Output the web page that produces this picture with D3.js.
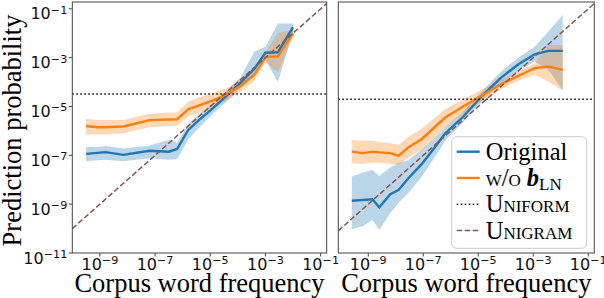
<!DOCTYPE html>
<html>
<head>
<meta charset="utf-8">
<script src="https://cdn.jsdelivr.net/npm/d3@7"></script>
<style>
  body { margin: 0; background: #fff; }
  svg { display: block; }
</style>
</head>
<body>
<script>
// all series values are log10 of the value

// left panel (BERT-like, vocab ~30k)
var freqL = [-9.5, -9.1, -8.8, -8.15, -7.2, -6.5, -6.2, -5.8, -5.4, -4.9, -4.4, -3.9, -3.4, -3.0, -2.55, -2.0];
var origL = [-6.94, -6.9, -6.87, -6.98, -6.81, -6.85, -6.74, -5.96, -5.55, -5.07, -4.55, -4.02, -3.45, -2.8, -2.78, -1.75];
var origLHi = [-6.66, -6.66, -6.62, -6.72, -6.6, -6.36, -6.48, -5.72, -5.3, -4.85, -4.35, -3.8, -2.75, -2.55, -1.6, -1.6];
var origLLo = [-7.24, -7.2, -7.18, -7.24, -7.12, -7.18, -7.16, -6.35, -5.85, -5.3, -4.78, -4.25, -3.75, -3.1, -4.0, -1.95];
var wolnL = [-5.8, -5.85, -5.85, -5.82, -5.56, -5.53, -5.52, -5.11, -4.95, -4.75, -4.5, -4.15, -3.7, -2.97, -2.95, -2.0];
var wolnLHi = [-5.5, -5.55, -5.55, -5.55, -5.3, -5.25, -5.25, -4.8, -4.62, -4.45, -4.25, -3.9, -3.45, -2.8, -2.0, -1.85];
var wolnLLo = [-6.15, -6.15, -6.15, -6.1, -5.85, -5.8, -5.8, -5.4, -5.25, -5.05, -4.75, -4.4, -3.95, -3.2, -3.6, -2.15];
var uniformL = 1 / 30522;

// right panel (GPT-2-like, vocab ~50k)
var freqR = [-9.6, -9.2, -8.85, -8.6, -8.2, -7.9, -7.55, -7.05, -6.6, -6.2, -5.55, -4.85, -4.2, -3.55, -2.95, -2.45, -1.93];
var origR = [-8.86, -8.83, -8.8, -9.13, -8.59, -8.42, -7.95, -7.35, -6.7, -6.1, -5.42, -4.55, -3.85, -3.28, -2.86, -2.72, -2.72];
var origRHi = [-7.87, -7.7, -7.6, -7.85, -7.5, -7.3, -7.2, -6.75, -6.3, -5.85, -5.2, -4.35, -3.6, -3.0, -2.55, -1.93, -1.25];
var origRLo = [-10.03, -9.9, -9.65, -10.06, -9.36, -8.95, -8.55, -7.87, -7.1, -6.4, -5.65, -4.75, -4.1, -3.55, -3.16, -3.5, -4.32];
var wolnR = [-6.85, -6.91, -6.85, -6.88, -6.91, -7.02, -6.68, -6.33, -5.86, -5.45, -5.0, -4.54, -4.1, -3.75, -3.43, -3.36, -3.5];
var wolnRHi = [-6.37, -6.4, -6.4, -6.45, -6.5, -6.57, -6.25, -5.9, -5.48, -5.1, -4.7, -4.3, -3.9, -3.55, -3.25, -2.48, -2.48];
var wolnRLo = [-7.32, -7.35, -7.3, -7.3, -7.35, -7.39, -7.1, -6.75, -6.3, -5.85, -5.3, -4.8, -4.3, -3.95, -3.7, -3.98, -4.35];
var uniformR = 1 / 50257;

var xTicks = [1e-9, 1e-7, 1e-5, 1e-3, 1e-1];
var yTicks = [1e-11, 1e-9, 1e-7, 1e-5, 1e-3, 1e-1];
var legendLabels = ["Original", "w/o", "Uniform", "Unigram"];

var blue = "#1f77b4", orange = "#ff7f0e", brown = "#8c564b";
var width = 604, height = 298;
var plotTop = 2, plotBottom = 253;
var serif = "'Liberation Serif', 'Times New Roman', serif";
var sans = "'DejaVu Sans', sans-serif";

var svg = d3.select("body").append("svg")
    .attr("width", width)
    .attr("height", height);

var y = d3.scaleLog()
    .domain([1e-11, Math.pow(10, -0.72)])
    .range([plotBottom, plotTop]);

function pow10(v){
    return Math.pow(10, v);
}

function supLabel(sel, v){
    sel.append("tspan").text("10");
    sel.append("tspan")
        .attr("font-size", "0.7em")
        .attr("dy", "-0.5em")
        .text("\u2212" + Math.round(-Math.log10(v)));
}

function panel(id, x0, x1, xlo, freq, orig, origHi, origLo, woln, wolnHi, wolnLo, uniform, showY){
    var x = d3.scaleLog()
        .domain([pow10(xlo), pow10(-0.78)])
        .range([x0, x1]);

    var g = svg.append("g");

    g.append("clipPath").attr("id", id)
        .append("rect")
        .attr("x", x0).attr("y", plotTop)
        .attr("width", x1 - x0).attr("height", plotBottom - plotTop);

    var plot = g.append("g").attr("clip-path", "url(#" + id + ")");

    var area = function(hi, lo){
        return d3.area()
            .x(function(d, i){ return x(pow10(freq[i])); })
            .y0(function(d, i){ return y(pow10(lo[i])); })
            .y1(function(d, i){ return y(pow10(hi[i])); })(freq);
    };
    var line = function(vals){
        return d3.line()
            .x(function(d, i){ return x(pow10(freq[i])); })
            .y(function(d){ return y(pow10(d)); })(vals);
    };

    plot.append("path").attr("d", area(origHi, origLo))
        .attr("fill", blue).attr("fill-opacity", 0.3);
    plot.append("path").attr("d", area(wolnHi, wolnLo))
        .attr("fill", orange).attr("fill-opacity", 0.3);

    plot.append("path").attr("d", line(orig))
        .attr("fill", "none").attr("stroke", blue).attr("stroke-width", 2.4);
    plot.append("path").attr("d", line(woln))
        .attr("fill", "none").attr("stroke", orange).attr("stroke-width", 2.4);

    // uniform baseline
    plot.append("line")
        .attr("x1", x0).attr("x2", x1)
        .attr("y1", y(uniform)).attr("y2", y(uniform))
        .attr("stroke", "#000").attr("stroke-width", 1.5)
        .attr("stroke-dasharray", "1.5,2.5");

    // unigram: prediction = frequency
    var dom = x.domain();
    plot.append("line")
        .attr("x1", x(dom[0])).attr("y1", y(dom[0]))
        .attr("x2", x(dom[1])).attr("y2", y(dom[1]))
        .attr("stroke", brown).attr("stroke-width", 1.5)
        .attr("stroke-dasharray", "5.5,2.5");

    g.append("rect")
        .attr("x", x0).attr("y", plotTop)
        .attr("width", x1 - x0).attr("height", plotBottom - plotTop)
        .attr("fill", "none").attr("stroke", "#444").attr("stroke-width", 1);

    xTicks.forEach(function(t){
        g.append("line")
            .attr("x1", x(t)).attr("x2", x(t))
            .attr("y1", plotBottom).attr("y2", plotBottom + 3.5)
            .attr("stroke", "#444");
        var lab = g.append("text")
            .attr("x", x(t)).attr("y", plotBottom + 17)
            .attr("text-anchor", "middle")
            .attr("font-family", sans).attr("font-size", 16)
            .attr("fill", "#111");
        supLabel(lab, t);
    });

    if(showY){
        yTicks.forEach(function(t){
            g.append("line")
                .attr("x1", x0 - 3.5).attr("x2", x0)
                .attr("y1", y(t)).attr("y2", y(t))
                .attr("stroke", "#444");
            var lab = g.append("text")
                .attr("x", x0 - 5).attr("y", y(t) + 10.5)
                .attr("text-anchor", "end")
                .attr("font-family", sans).attr("font-size", 16)
                .attr("fill", "#111");
            supLabel(lab, t);
        });
        g.append("text")
            .attr("transform", "translate(21," + ((plotTop + plotBottom) / 2 + 3) + ") rotate(-90)")
            .attr("text-anchor", "middle")
            .attr("font-family", serif).attr("font-size", 26.5)
            .text("Prediction probability");
    }

    g.append("text")
        .attr("x", (x0 + x1) / 2).attr("y", 292)
        .attr("text-anchor", "middle")
        .attr("font-family", serif).attr("font-size", 26.5)
        .text("Corpus word frequency");

    return x;
}

panel("clipL", 72.3, 326.7, -10, freqL, origL, origLHi, origLLo, wolnL, wolnLHi, wolnLLo, uniformL, true);
panel("clipR", 338.3, 594.3, -10.09, freqR, origR, origRHi, origRLo, wolnR, wolnRHi, wolnRLo, uniformR, false);

// legend
var lg = svg.append("g").attr("transform", "translate(451.7,136.7)");
lg.append("rect")
    .attr("width", 135).attr("height", 111.6)
    .attr("rx", 5)
    .attr("fill", "#fff").attr("fill-opacity", 0.8)
    .attr("stroke", "#ccc").attr("stroke-width", 1);

var handles = [
    {color: blue, width: 2.4, dash: null},
    {color: orange, width: 2.4, dash: null},
    {color: "#000", width: 1.5, dash: "1.5,2.5"},
    {color: brown, width: 1.5, dash: "5.5,2.5"}
];
legendLabels.forEach(function(name, i){
    var ry = 15 + i * 26.3;
    var h = handles[i];
    lg.append("line")
        .attr("x1", 5).attr("x2", 28)
        .attr("y1", ry).attr("y2", ry)
        .attr("stroke", h.color).attr("stroke-width", h.width)
        .attr("stroke-dasharray", h.dash);
    var t = lg.append("text")
        .attr("x", 34).attr("y", ry + 8)
        .attr("font-family", serif).attr("font-size", 24.5);
    if(i === 1){
        t.append("tspan").style("font-variant", "small-caps").text(name);
        t.append("tspan").attr("dx", 6).attr("font-weight", "bold").attr("font-style", "italic").text("b");
        t.append("tspan").attr("font-size", 17).attr("dy", 4).text("LN");
    } else if(i > 1){
        t.style("font-variant", "small-caps").text(name);
    } else {
        t.text(name);
    }
});
</script>
</body>
</html>
